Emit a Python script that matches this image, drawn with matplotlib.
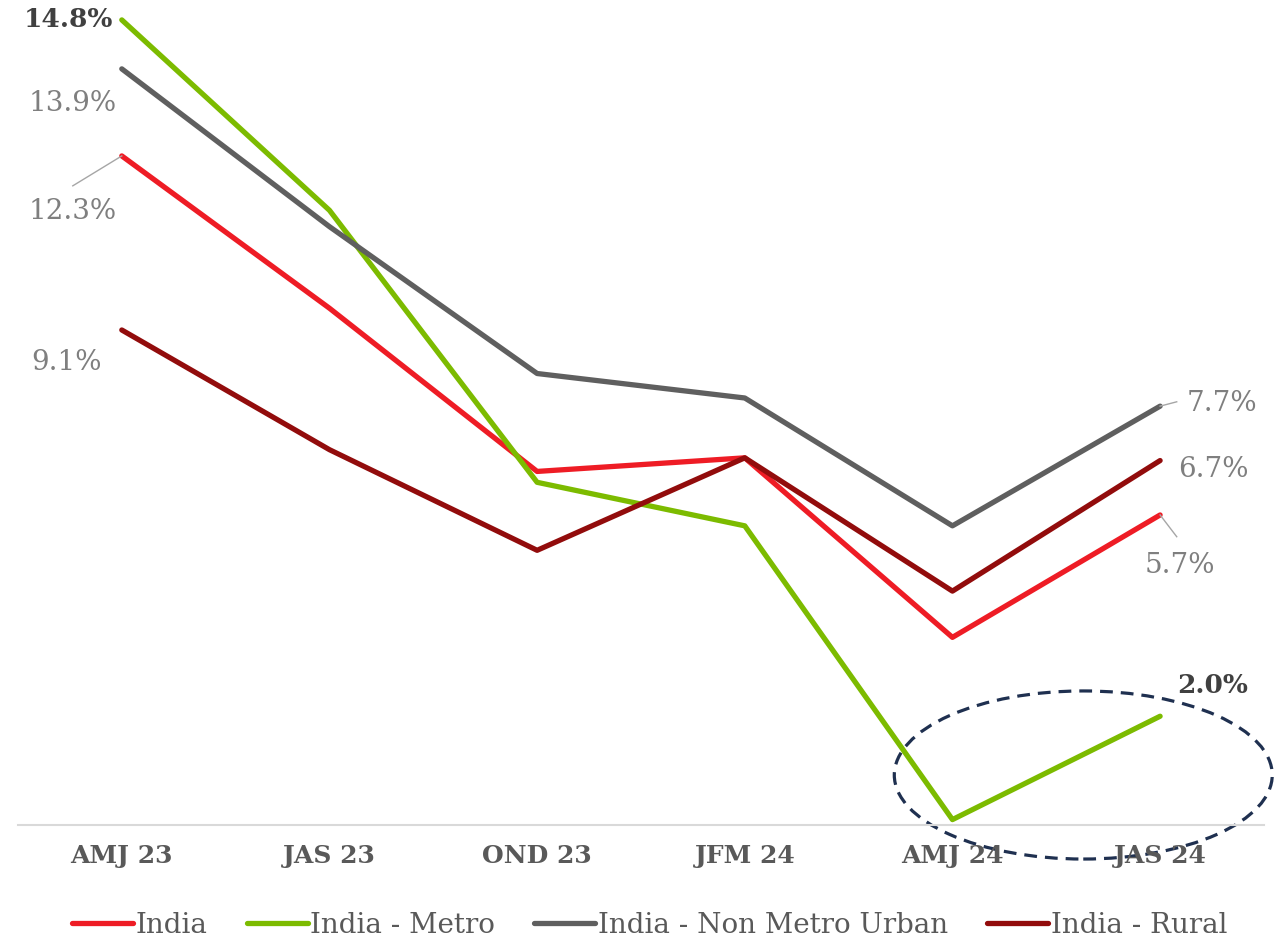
import matplotlib.pyplot as plt
from matplotlib.patches import Ellipse

quarters = ['AMJ 23', 'JAS 23', 'OND 23', 'JFM 24', 'AMJ 24', 'JAS 24']
india = [12.3, 9.5, 6.5, 6.75, 3.45, 5.7]
metro = [14.8, 11.3, 6.3, 5.5, 0.1, 2.0]
non_metro = [13.9, 11.0, 8.3, 7.85, 5.5, 7.7]
rural = [9.1, 6.9, 5.05, 6.75, 4.3, 6.7]

series = [
    ('India', india, '#ee1c25'),
    ('India - Metro', metro, '#7cbb00'),
    ('India - Non Metro Urban', non_metro, '#5f5f5f'),
    ('India - Rural', rural, '#920c0c'),
]

plt.rcParams['font.family'] = ['DejaVu Serif']

fig = plt.figure(figsize=(12.74, 9.4), dpi=100)
ax = fig.add_axes([0.0141, 0.1223, 0.978, 0.8681])

x = list(range(len(quarters)))
for name, vals, col in series:
    ax.plot(x, vals, color=col, lw=3.8, label=name, solid_capstyle='round')

ax.set_xlim(-0.5, 5.5)
ax.set_ylim(0, 15)
ax.set_yticks([])
ax.set_xticks(x)
ax.set_xticklabels(quarters, fontsize=18, fontweight='bold', color='#595959')
ax.tick_params(axis='x', length=0, pad=14)
for s in ['top', 'right', 'left']:
    ax.spines[s].set_visible(False)
ax.spines['bottom'].set_color('#d9d9d9')
ax.spines['bottom'].set_linewidth(1.5)

lab = dict(fontsize=20, color='#7f7f7f', va='center')
ax.text(-0.043, 14.8, '14.8%', ha='right', fontweight='bold', fontsize=19,
        color='#404040', va='center')
ax.text(-0.236, 13.27, '13.9%', ha='center', **lab)
ax.text(-0.236, 11.27, '12.3%', ha='center', **lab)
ax.text(-0.265, 8.51, '9.1%', ha='center', **lab)
ax.text(5.13, 7.75, '7.7%', ha='left', **lab)
ax.text(5.255, 6.53, '6.7%', ha='center', **lab)
ax.text(5.096, 4.78, '5.7%', ha='center', **lab)
ax.text(5.255, 2.57, '2.0%', ha='center', fontweight='bold', fontsize=19,
        color='#404040', va='center')

# leader lines
ax.plot([0, -0.236], [india[0], 11.75], color='#a6a6a6', lw=1, clip_on=False)
ax.plot([5, 5.08], [india[5], 5.3], color='#a6a6a6', lw=1, clip_on=False)
ax.plot([5, 5.08], [non_metro[5], 7.78], color='#a6a6a6', lw=1, clip_on=False)

ell = Ellipse((4.63, 0.92), 1.82, 3.09, fill=False, ls=(0, (4, 2.5)),
              lw=2.3, edgecolor='#1f3050', clip_on=False)
ax.add_patch(ell)

ax.legend(loc='lower center', bbox_to_anchor=(0.507, -0.17), ncol=4,
          frameon=False, fontsize=20, labelcolor='#595959',
          handlelength=2.2, handletextpad=0.1, columnspacing=1.4)

fig.savefig('out.png', dpi=100)
